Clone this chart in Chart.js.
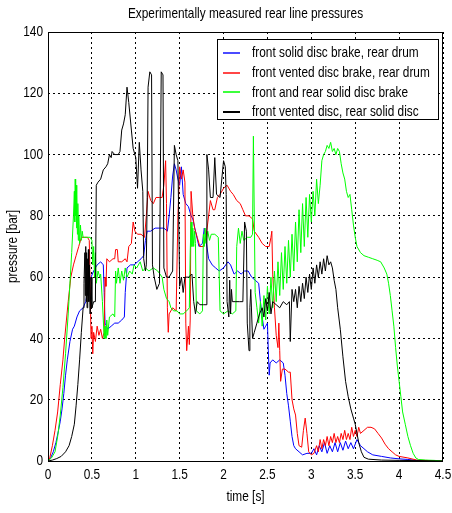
<!DOCTYPE html>
<html>
<head>
<meta charset="utf-8">
<script src="https://cdn.jsdelivr.net/npm/chart.js@4.4.1/dist/chart.umd.min.js"></script>
<style>
  html, body { margin: 0; padding: 0; background: #fff; }
  canvas { display: block; }
</style>
</head>
<body>
<canvas id="pressureChart" width="452" height="513"></canvas>
<script>
// rear line pressure traces, [time s, pressure bar]
const seriesNames = [
    "front solid disc brake, rear drum",
    "front vented disc brake, rear drum",
    "front and rear solid disc brake",
    "front vented disc, rear solid disc"
];
const seriesColors = ["#0000ff", "#ff0000", "#00ff00", "#000000"];
const legendColors = ["#4b4bff", "#ff4646", "#3cff3c", "#000000"];

const frontSolidRearDrum = [
    [0,0],[0.03,1],[0.06,3],[0.09,6],[0.12,10],[0.14,13],[0.16,17],[0.18,22],[0.2,28],[0.22,33],
    [0.25,39],[0.28,43],[0.3,44],[0.33,47],[0.36,49],[0.4,50],[0.43,52],[0.46,57],[0.49,60],[0.52,62],
    [0.56,64],[0.6,65],[0.63,64],[0.64,55],[0.65,45],[0.68,43],[0.72,44],[0.76,45],[0.8,45],[0.84,46],
    [0.87,47],[0.88,55],[0.9,63],[0.94,64],[0.98,64],[1.02,65],[1.06,66],[1.09,67],[1.11,72],[1.13,75],
    [1.17,75],[1.22,76],[1.27,76],[1.32,76],[1.36,75],[1.38,80],[1.4,86],[1.42,93],[1.44,97],[1.46,95],
    [1.48,92],[1.5,90],[1.52,96],[1.54,87],[1.57,84],[1.6,83],[1.63,80],[1.65,79],[1.68,75],[1.72,70],
    [1.76,71],[1.78,76],[1.8,72],[1.83,66],[1.87,64],[1.91,63],[1.95,62],[2.0,63],[2.05,65],[2.08,64],
    [2.12,61],[2.16,62],[2.2,61],[2.24,62],[2.28,62],[2.32,60],[2.36,59],[2.4,58],[2.42,52],[2.44,47],
    [2.46,43],[2.48,44],[2.5,45],[2.51,36],[2.52,28],[2.53,32],[2.56,33],[2.6,32],[2.64,33],[2.68,32],
    [2.7,28],[2.72,22],[2.74,18],[2.76,13],[2.78,8],[2.8,5],[2.82,4],[2.86,3],[2.9,2],[2.95,2.5],
    [3.0,2.5],[3.03,4],[3.06,2],[3.09,5],[3.12,3],[3.15,6],[3.18,2.5],[3.21,5],[3.24,3],[3.27,6],
    [3.3,3],[3.33,6],[3.36,3.5],[3.39,6.5],[3.42,4],[3.45,6],[3.48,4],[3.52,7],[3.56,5],[3.6,4],
    [3.64,3],[3.7,2],[3.8,1.5],[3.9,1],[4.0,0.7],[4.1,0.5],[4.2,0.2],[4.5,0]
];

const frontVentedRearDrum = [
    [0,0],[0.02,1],[0.05,5],[0.08,10],[0.11,16],[0.14,25],[0.17,33],[0.19,40],[0.21,46],[0.23,52],
    [0.26,60],[0.29,64],[0.32,67],[0.35,70],[0.38,73],[0.42,73],[0.45,73],[0.47,72],[0.48,58],[0.49,40],
    [0.5,44],[0.51,35],[0.52,42],[0.54,39],[0.56,44],[0.58,41],[0.6,43],[0.62,40],[0.64,42],[0.65,60],
    [0.66,57],[0.67,66],[0.7,65],[0.74,66],[0.76,66],[0.77,69],[0.79,69],[0.8,65],[0.84,65],[0.88,66],
    [0.9,65],[0.92,70],[0.95,71],[0.97,78],[0.99,75],[1.02,74],[1.06,74],[1.1,73],[1.12,80],[1.14,88],
    [1.17,85],[1.2,84],[1.23,86],[1.27,86],[1.3,86],[1.32,90],[1.34,98],[1.35,84],[1.36,50],[1.37,42],
    [1.38,48],[1.42,50],[1.46,49],[1.48,80],[1.5,96],[1.52,92],[1.54,95],[1.56,91],[1.57,45],[1.58,36],
    [1.6,44],[1.61,38],[1.62,46],[1.63,88],[1.65,80],[1.67,76],[1.7,73],[1.73,70],[1.77,70],[1.8,73],
    [1.83,80],[1.85,85],[1.88,82],[1.9,82],[1.93,86],[1.96,87],[2.0,89],[2.04,90],[2.08,88],[2.11,87],
    [2.15,85],[2.19,84],[2.22,82],[2.25,80],[2.29,80],[2.33,79],[2.35,75],[2.4,73],[2.44,71],[2.48,70],
    [2.52,70],[2.54,73],[2.55,75],[2.56,61],[2.58,50],[2.6,41],[2.62,37],[2.63,45],[2.64,36],[2.65,26],
    [2.67,30],[2.7,30],[2.74,29],[2.76,29],[2.78,20],[2.8,17],[2.82,15],[2.84,9],[2.86,5],[2.89,4.5],
    [2.91,10],[2.93,14],[2.95,9],[2.97,3],[3.0,2],[3.03,2.5],[3.06,5],[3.08,3],[3.1,7],[3.12,4],
    [3.14,7],[3.16,5],[3.18,8],[3.2,5],[3.22,8],[3.24,6],[3.26,9],[3.28,6],[3.3,8],[3.32,6],
    [3.34,9],[3.36,7],[3.38,10],[3.4,7],[3.42,9],[3.44,7],[3.46,11],[3.48,8],[3.5,10],[3.52,8],
    [3.54,11],[3.56,9],[3.6,10],[3.64,11],[3.68,11],[3.72,10.5],[3.76,9],[3.8,7.5],[3.84,5.5],[3.88,4],
    [3.92,3],[3.96,2],[4.0,1.5],[4.1,1],[4.2,0.3],[4.5,0]
];

const frontRearSolid = [
    [0,0],[0.04,1],[0.08,3],[0.11,8],[0.14,15],[0.17,24],[0.2,35],[0.23,48],[0.25,58],[0.27,68],
    [0.29,80],[0.3,88],[0.305,78],[0.31,92],[0.315,80],[0.32,90],[0.325,76],[0.33,87],[0.335,74],[0.34,84],
    [0.345,72],[0.35,80],[0.36,71],[0.37,77],[0.38,72],[0.39,75],[0.4,73],[0.44,73],[0.48,73],[0.5,72],
    [0.51,64],[0.52,70],[0.53,60],[0.54,68],[0.55,58],[0.57,62],[0.59,60],[0.6,61],[0.62,52],[0.63,46],
    [0.64,40],[0.65,44],[0.66,40],[0.67,46],[0.68,41],[0.7,47],[0.74,48],[0.76,47],[0.77,62],[0.78,58],
    [0.8,63],[0.82,58],[0.84,62],[0.86,59],[0.88,63],[0.9,60],[0.93,62],[0.96,61],[0.98,64],[1.01,63],
    [1.05,65],[1.08,62],[1.11,63],[1.15,62],[1.2,63],[1.25,62],[1.3,60],[1.32,56],[1.35,53],[1.38,52],
    [1.4,50],[1.43,49],[1.47,49],[1.5,48],[1.54,48],[1.58,49],[1.61,50],[1.62,68],[1.63,78],[1.64,70],
    [1.65,76],[1.66,70],[1.67,75],[1.68,71],[1.69,49],[1.73,48],[1.76,49],[1.77,74],[1.78,70],[1.79,76],
    [1.8,71],[1.82,75],[1.84,72],[1.86,74],[1.9,74],[1.94,73],[1.96,49],[2.0,48],[2.05,49],[2.1,48],
    [2.14,49],[2.15,70],[2.17,76],[2.19,71],[2.21,75],[2.23,72],[2.27,73],[2.31,73],[2.33,74],[2.34,106],
    [2.35,80],[2.36,55],[2.38,50],[2.4,45],[2.42,52],[2.44,44],[2.46,54],[2.48,46],[2.5,57],[2.52,48],
    [2.54,60],[2.56,50],[2.58,62],[2.6,52],[2.62,65],[2.64,54],[2.66,68],[2.68,56],[2.7,70],[2.72,58],
    [2.74,72],[2.76,60],[2.78,74],[2.8,62],[2.82,78],[2.84,65],[2.86,82],[2.88,68],[2.9,84],[2.92,70],
    [2.94,86],[2.96,73],[2.98,87],[3.0,78],[3.02,88],[3.04,80],[3.06,92],[3.08,84],[3.1,90],[3.12,98],
    [3.14,100],[3.16,101],[3.18,103],[3.2,102],[3.22,104],[3.24,101],[3.26,102],[3.28,100],[3.3,102],[3.32,101],
    [3.34,97],[3.36,94],[3.38,92],[3.4,88],[3.42,86],[3.44,87],[3.46,82],[3.48,77],[3.5,73],[3.52,70],
    [3.56,68],[3.6,67],[3.65,66.5],[3.7,66],[3.75,65.5],[3.79,65],[3.83,63],[3.86,61],[3.88,58],[3.9,54],
    [3.92,49],[3.94,44],[3.96,37],[3.98,31],[4.0,26],[4.02,21],[4.04,16],[4.07,12],[4.1,8],[4.13,5],
    [4.16,2.5],[4.19,1],[4.22,0.5],[4.3,0.3],[4.4,0.2],[4.5,0]
];

const frontVentedRearSolid = [
    [0,0],[0.05,0.3],[0.1,0.8],[0.15,1.5],[0.2,3],[0.24,5],[0.27,8],[0.3,12],[0.32,18],[0.34,25],
    [0.36,33],[0.38,42],[0.4,50],[0.41,58],[0.42,68],[0.425,54],[0.43,70],[0.435,52],[0.44,68],[0.445,50],
    [0.45,66],[0.455,54],[0.46,69],[0.465,52],[0.47,64],[0.48,48],[0.49,60],[0.5,50],[0.52,52],[0.54,52],
    [0.55,90],[0.57,91],[0.6,92],[0.63,95],[0.66,96],[0.68,97],[0.7,100],[0.72,99],[0.73,101],[0.76,100],
    [0.8,100],[0.82,101],[0.84,108],[0.86,110],[0.88,113],[0.9,122],[0.92,117],[0.95,108],[0.97,102],[1.0,99],
    [1.02,89],[1.04,104],[1.06,95],[1.08,88],[1.09,66],[1.11,62],[1.12,64],[1.13,86],[1.14,122],[1.16,127],
    [1.18,126],[1.19,64],[1.21,60],[1.24,56],[1.27,58],[1.29,127],[1.31,126],[1.32,63],[1.35,60],[1.38,60],
    [1.42,62],[1.44,103],[1.46,100],[1.48,98],[1.5,57],[1.52,60],[1.54,55],[1.56,60],[1.6,60],[1.64,61],
    [1.66,52],[1.68,48],[1.7,52],[1.73,51],[1.77,51],[1.8,51],[1.81,100],[1.83,95],[1.85,86],[1.88,86],
    [1.9,99],[1.92,87],[1.96,86],[2.0,98],[2.02,96],[2.03,87],[2.04,52],[2.06,47],[2.07,59],[2.08,48],
    [2.09,56],[2.1,52],[2.14,52],[2.18,52],[2.22,52],[2.24,78],[2.26,75],[2.27,45],[2.29,36],[2.3,50],
    [2.31,56],[2.33,40],[2.35,42],[2.38,45],[2.41,48],[2.44,50],[2.46,47],[2.48,53],[2.5,49],[2.52,55],
    [2.54,48],[2.56,52],[2.6,51],[2.64,50],[2.68,52],[2.72,51],[2.75,52],[2.76,39],[2.78,56],[2.8,52],
    [2.82,56],[2.84,50],[2.86,57],[2.88,52],[2.9,58],[2.92,53],[2.94,60],[2.96,55],[2.98,61],[3.0,56],
    [3.02,63],[3.04,58],[3.06,64],[3.08,60],[3.1,65],[3.12,61],[3.14,66],[3.16,62],[3.18,67],[3.2,64],
    [3.22,65],[3.24,63],[3.26,59],[3.28,56],[3.3,50],[3.33,43],[3.36,34],[3.39,26],[3.42,21],[3.45,17],
    [3.48,14],[3.5,12],[3.52,9],[3.54,6],[3.57,3],[3.6,1.2],[3.65,0.6],[3.8,0.3],[4.0,0.2],[4.5,0]
];

const xTicks = [0, 0.5, 1, 1.5, 2, 2.5, 3, 3.5, 4, 4.5];
const yTicks = [0, 20, 40, 60, 80, 100, 120, 140];
const chartTitle = "Experimentally measured rear line pressures";
const xTitle = "time [s]";
const yTitle = "pressure [bar]";

const FONT = "15px 'Liberation Sans', Arial, sans-serif";
const SQUEEZE = 0.79;   // narrow-face look for all labels

const allSeries = [frontSolidRearDrum, frontVentedRearDrum, frontRearSolid, frontVentedRearSolid];

// black drawn last (on top), blue first
const datasets = allSeries.map((pts, i) => ({
    label: seriesNames[i],
    data: pts.map(p => ({ x: p[0], y: p[1] })),
    borderColor: seriesColors[i],
    backgroundColor: seriesColors[i],
    borderWidth: 1,
    pointRadius: 0,
    showLine: true,
    fill: false,
    tension: 0,
    order: allSeries.length - i
}));

function narrowText(ctx, text, x, y, align, rot) {
    ctx.save();
    ctx.translate(x, y);
    if (rot) ctx.rotate(rot);
    ctx.scale(SQUEEZE, 1);
    ctx.font = FONT;
    ctx.fillStyle = "#000";
    ctx.textAlign = align;
    ctx.textBaseline = "middle";
    ctx.fillText(text, 0, 0);
    ctx.restore();
}

// axes box, labels and the inset legend
const frameAndLegend = {
    id: "frameAndLegend",
    afterDatasetsDraw(chart) {
        const { ctx, chartArea: a, scales } = chart;
        ctx.save();
        ctx.setLineDash([]);
        ctx.strokeStyle = "#000";
        ctx.lineWidth = 1;
        ctx.strokeRect(Math.round(a.left) + 0.5, Math.round(a.top) + 0.5,
            Math.round(a.right - a.left) - 1, Math.round(a.bottom - a.top));

        narrowText(ctx, chartTitle, (a.left + a.right) / 2, 14, "center");
        yTicks.forEach(v => narrowText(ctx, String(v), a.left - 5, scales.y.getPixelForValue(v), "right"));
        xTicks.forEach(v => narrowText(ctx, String(v), scales.x.getPixelForValue(v), a.bottom + 14, "center"));
        narrowText(ctx, xTitle, (a.left + a.right) / 2, a.bottom + 36, "center");
        narrowText(ctx, yTitle, 13, (a.top + a.bottom) / 2, "center", -Math.PI / 2);

        const bx = Math.round(a.right) - 226, by = Math.round(a.top) + 7;
        const bw = 221, bh = 80;
        ctx.fillStyle = "#fff";
        ctx.fillRect(bx, by, bw, bh);
        ctx.strokeStyle = "#000";
        ctx.strokeRect(bx + 0.5, by + 0.5, bw, bh);

        seriesNames.forEach((name, i) => {
            const ry = by + 14 + i * 19.7;
            ctx.beginPath();
            ctx.strokeStyle = legendColors[i];
            ctx.lineWidth = 2;
            ctx.moveTo(bx + 6, Math.round(ry));
            ctx.lineTo(bx + 23, Math.round(ry));
            ctx.stroke();
            narrowText(ctx, name, bx + 35, ry, "left");
        });
        ctx.restore();
    }
};

new Chart(document.getElementById("pressureChart"), {
    type: "scatter",
    data: { datasets },
    options: {
        responsive: false,
        animation: false,
        layout: { padding: { left: 0, right: 9, top: 32, bottom: 0 } },
        plugins: {
            legend: { display: false },
            tooltip: { enabled: false },
            title: { display: false }
        },
        scales: {
            x: {
                type: "linear",
                min: 0,
                max: 4.5,
                afterBuildTicks: s => { s.ticks = xTicks.map(v => ({ value: v })); },
                afterFit: s => { s.height = 52; },
                ticks: { display: false },
                grid: { color: "#000", lineWidth: 1, drawTicks: false },
                border: { display: false, dash: [2, 3] }
            },
            y: {
                type: "linear",
                min: 0,
                max: 140,
                afterBuildTicks: s => { s.ticks = yTicks.map(v => ({ value: v })); },
                afterFit: s => { s.width = 48; },
                ticks: { display: false },
                grid: { color: "#000", lineWidth: 1, drawTicks: false },
                border: { display: false, dash: [2, 3] }
            }
        }
    },
    plugins: [frameAndLegend]
});
</script>
</body>
</html>
